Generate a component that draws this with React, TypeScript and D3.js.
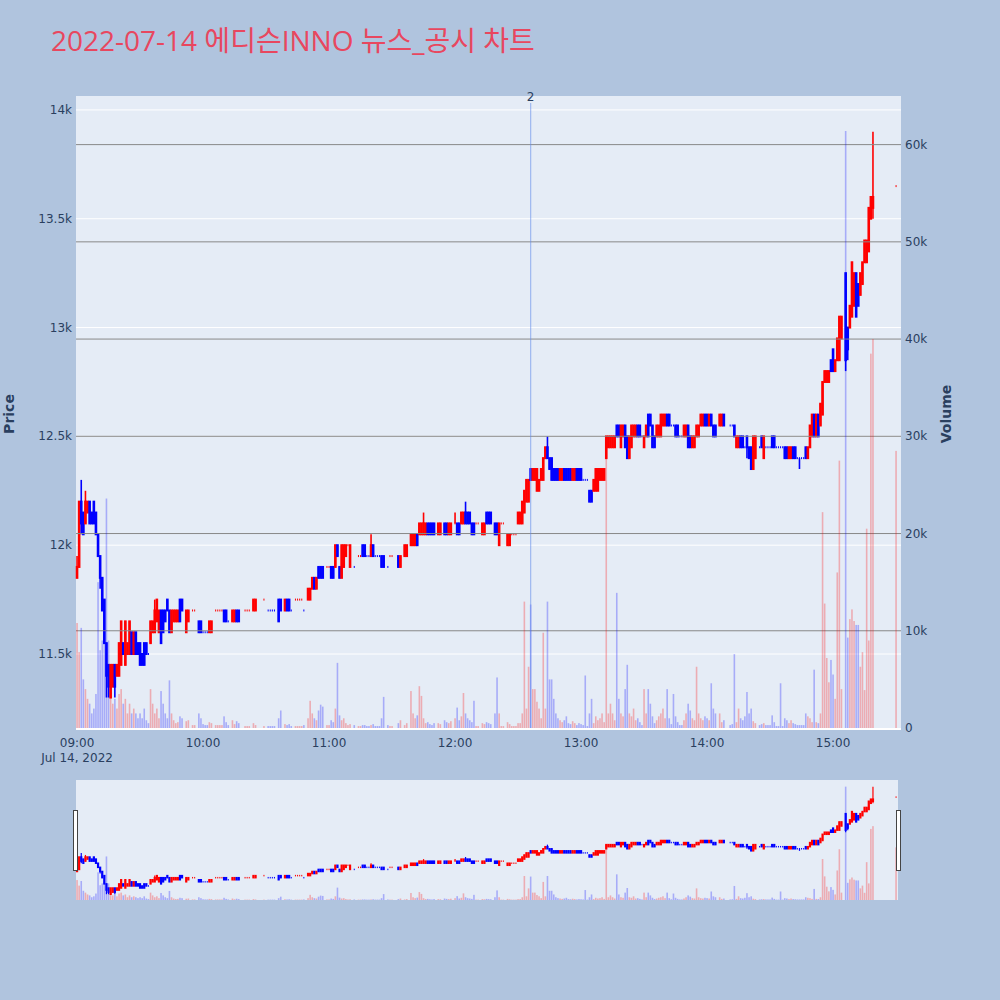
import React from 'react';
import * as d3 from 'd3';

const TITLE = '2022-07-14 에디슨INNO 뉴스_공시 차트';

// [minute after 09:00, open, high, low, close, volume]
const candles: number[][] = [
  [0, 11850, 11950, 11850, 11900, 10800], [1, 11900, 12200, 11900, 12200, 7800], [2, 12200, 12300, 12050, 12100, 10300],
  [3, 12150, 12150, 12050, 12050, 5000], [4, 12100, 12250, 12100, 12200, 4000], [5, 12150, 12200, 12150, 12200, 3000],
  [6, 12200, 12200, 12100, 12100, 2500], [7, 12150, 12150, 12100, 12100, 1500], [8, 12200, 12200, 12100, 12100, 2000],
  [9, 12150, 12150, 12050, 12050, 3500], [10, 12050, 12050, 11950, 11950, 15000], [11, 11950, 11950, 11800, 11850, 8000],
  [12, 11850, 11850, 11700, 11700, 9000], [13, 11750, 11750, 11550, 11550, 10000], [14, 11550, 11550, 11300, 11400, 23600],
  [15, 11450, 11450, 11300, 11350, 9000], [16, 11300, 11450, 11300, 11450, 4000], [17, 11350, 11450, 11350, 11450, 2500],
  [18, 11450, 11450, 11300, 11350, 3000], [19, 11400, 11450, 11400, 11450, 2000], [20, 11400, 11550, 11400, 11550, 3500],
  [21, 11450, 11650, 11450, 11650, 4000], [22, 11550, 11550, 11500, 11500, 2500], [23, 11450, 11650, 11450, 11650, 3000],
  [24, 11500, 11550, 11500, 11550, 1500], [25, 11500, 11650, 11500, 11650, 2500], [26, 11600, 11600, 11500, 11500, 1500],
  [27, 11500, 11600, 11500, 11600, 2000], [28, 11600, 11600, 11500, 11500, 1500], [29, 11550, 11550, 11500, 11500, 1000],
  [30, 11550, 11550, 11450, 11450, 1500], [31, 11500, 11500, 11450, 11450, 1000], [32, 11550, 11550, 11450, 11450, 2000],
  [33, 11550, 11550, 11500, 11500, 800], [34, 11500, 11500, 11500, 11500, 500], [35, 11550, 11650, 11550, 11650, 4000],
  [36, 11600, 11650, 11600, 11650, 2500], [37, 11600, 11750, 11600, 11700, 1500], [38, 11650, 11750, 11650, 11750, 2000],
  [39, 11600, 11700, 11600, 11700, 1000], [40, 11700, 11700, 11550, 11550, 3800], [41, 11700, 11700, 11600, 11600, 2500],
  [42, 11700, 11700, 11650, 11650, 1500], [43, 11750, 11750, 11700, 11700, 1000], [44, 11700, 11700, 11600, 11600, 4900],
  [45, 11600, 11700, 11600, 11700, 1500], [46, 11650, 11700, 11650, 11700, 800], [47, 11650, 11700, 11650, 11700, 500],
  [48, 11650, 11700, 11650, 11700, 600], [49, 11750, 11750, 11650, 11650, 1200], [50, 11750, 11750, 11700, 11700, 1000],
  [52, 11600, 11700, 11600, 11700, 700], [53, 11650, 11700, 11650, 11700, 800], [55, 11700, 11700, 11700, 11700, 300],
  [56, 11700, 11700, 11700, 11700, 300], [58, 11650, 11650, 11600, 11600, 1500], [59, 11650, 11650, 11600, 11600, 1000],
  [60, 11600, 11600, 11600, 11600, 400], [61, 11600, 11600, 11600, 11600, 300], [62, 11600, 11600, 11600, 11600, 300],
  [63, 11600, 11650, 11600, 11650, 600], [64, 11600, 11650, 11600, 11650, 500], [66, 11700, 11700, 11700, 11700, 300],
  [67, 11700, 11700, 11700, 11700, 300], [68, 11700, 11700, 11700, 11700, 300], [69, 11700, 11700, 11700, 11700, 300],
  [70, 11700, 11700, 11650, 11650, 1200], [71, 11700, 11700, 11650, 11650, 600], [72, 11650, 11650, 11650, 11650, 300],
  [74, 11650, 11700, 11650, 11700, 800], [75, 11650, 11700, 11650, 11700, 400], [76, 11700, 11700, 11650, 11650, 700],
  [77, 11700, 11700, 11650, 11650, 500], [80, 11700, 11700, 11700, 11700, 200], [81, 11700, 11700, 11700, 11700, 200],
  [82, 11700, 11700, 11700, 11700, 200], [84, 11700, 11750, 11700, 11750, 500], [85, 11700, 11750, 11700, 11750, 300],
  [89, 11750, 11750, 11750, 11750, 200], [91, 11700, 11700, 11700, 11700, 200], [92, 11700, 11700, 11700, 11700, 200],
  [93, 11700, 11700, 11700, 11700, 200], [94, 11700, 11700, 11700, 11700, 200], [96, 11750, 11750, 11650, 11650, 1000],
  [97, 11750, 11750, 11700, 11700, 1800], [99, 11700, 11750, 11700, 11750, 400], [100, 11750, 11750, 11700, 11700, 300],
  [101, 11750, 11750, 11700, 11700, 400], [102, 11700, 11700, 11700, 11700, 200], [104, 11750, 11750, 11750, 11750, 200],
  [105, 11750, 11750, 11750, 11750, 200], [106, 11750, 11750, 11750, 11750, 200], [107, 11750, 11750, 11750, 11750, 200],
  [108, 11700, 11700, 11700, 11700, 300], [110, 11750, 11800, 11750, 11800, 1000], [111, 11750, 11800, 11750, 11800, 2800],
  [112, 11800, 11850, 11800, 11850, 1500], [113, 11850, 11850, 11800, 11800, 1000], [114, 11800, 11850, 11800, 11850, 800],
  [115, 11900, 11900, 11850, 11850, 1800], [116, 11900, 11900, 11850, 11850, 2400], [117, 11900, 11900, 11850, 11850, 2200],
  [119, 11900, 11900, 11900, 11900, 300], [120, 11900, 11900, 11900, 11900, 300], [121, 11900, 11900, 11850, 11850, 800],
  [122, 11900, 11900, 11850, 11850, 600], [123, 11900, 12000, 11900, 12000, 2000], [124, 12000, 12000, 11950, 11950, 6700],
  [125, 11900, 11900, 11850, 11850, 1300], [126, 11850, 12000, 11850, 12000, 800], [127, 11900, 12000, 11900, 12000, 1000],
  [128, 11950, 12000, 11950, 12000, 500], [129, 12000, 12000, 12000, 12000, 300], [130, 11900, 12000, 11900, 12000, 400],
  [132, 11900, 11900, 11900, 11900, 300], [134, 11950, 11950, 11950, 11950, 200], [135, 11950, 11950, 11950, 11950, 200],
  [136, 12000, 12000, 11950, 11950, 300], [137, 12000, 12000, 11950, 11950, 300], [138, 11950, 11950, 11950, 11950, 200],
  [139, 11950, 11950, 11950, 11950, 200], [140, 11950, 12050, 11950, 12000, 300], [141, 12000, 12000, 11950, 11950, 400],
  [142, 11950, 11950, 11950, 11950, 200], [143, 11950, 11950, 11950, 11950, 200], [144, 11950, 11950, 11950, 11950, 200],
  [145, 11950, 11950, 11900, 11900, 1000], [146, 11950, 11950, 11900, 11900, 3200], [148, 11900, 11900, 11900, 11900, 300],
  [149, 11950, 11950, 11950, 11950, 200], [150, 11950, 11950, 11950, 11950, 200], [153, 11950, 11950, 11900, 11900, 500],
  [154, 11900, 11950, 11900, 11950, 800], [156, 11950, 12000, 11950, 12000, 300], [157, 11950, 12000, 11950, 12000, 500],
  [159, 12000, 12050, 12000, 12050, 3800], [160, 12000, 12050, 12000, 12050, 1500], [161, 12000, 12050, 12000, 12050, 1000],
  [162, 12050, 12050, 12000, 12000, 1300], [163, 12050, 12100, 12050, 12100, 4300], [164, 12050, 12100, 12050, 12100, 3300],
  [165, 12050, 12150, 12050, 12100, 1000], [166, 12050, 12100, 12050, 12100, 500], [167, 12100, 12100, 12050, 12050, 600],
  [168, 12100, 12100, 12050, 12050, 400], [169, 12100, 12100, 12050, 12050, 300], [170, 12100, 12100, 12050, 12050, 500],
  [172, 12050, 12100, 12050, 12100, 500], [173, 12050, 12100, 12050, 12100, 400], [175, 12100, 12100, 12050, 12050, 800],
  [176, 12100, 12100, 12050, 12050, 600], [177, 12050, 12100, 12050, 12100, 500], [178, 12050, 12100, 12050, 12100, 700],
  [180, 12100, 12150, 12100, 12100, 1000], [181, 12100, 12100, 12050, 12050, 2100], [182, 12100, 12100, 12050, 12050, 800],
  [183, 12100, 12150, 12100, 12150, 1200], [184, 12100, 12150, 12100, 12150, 3600], [185, 12150, 12200, 12100, 12100, 1500],
  [186, 12150, 12150, 12100, 12100, 1000], [187, 12150, 12150, 12100, 12100, 800], [188, 12100, 12100, 12050, 12050, 600],
  [189, 12100, 12100, 12050, 12050, 2800], [190, 12100, 12100, 12100, 12100, 200], [191, 12100, 12100, 12100, 12100, 200],
  [193, 12050, 12100, 12050, 12100, 500], [194, 12050, 12100, 12050, 12100, 400], [195, 12150, 12150, 12100, 12100, 600],
  [196, 12150, 12150, 12100, 12100, 500], [197, 12150, 12150, 12100, 12100, 400], [199, 12100, 12100, 12050, 12050, 1500],
  [200, 12100, 12100, 12050, 12050, 5200], [201, 12000, 12100, 12000, 12100, 1500], [202, 12100, 12100, 12100, 12100, 200],
  [203, 12100, 12100, 12100, 12100, 200], [205, 12000, 12050, 12000, 12050, 600], [206, 12000, 12050, 12000, 12050, 400],
  [207, 12050, 12050, 12050, 12050, 200], [208, 12050, 12050, 12050, 12050, 200], [209, 12050, 12050, 12050, 12050, 200],
  [210, 12100, 12150, 12100, 12150, 500], [211, 12100, 12150, 12100, 12150, 500], [212, 12100, 12200, 12100, 12200, 1500],
  [213, 12150, 12250, 12150, 12250, 13000], [214, 12200, 12300, 12200, 12300, 2000], [215, 12200, 12300, 12200, 12300, 6300],
  [216, 12350, 12350, 12300, 12300, 12700], [217, 12300, 12350, 12300, 12350, 4000], [218, 12300, 12350, 12300, 12350, 4000],
  [219, 12250, 12350, 12250, 12350, 2700], [220, 12250, 12300, 12250, 12300, 2000], [221, 12300, 12350, 12300, 12350, 1000],
  [222, 12300, 12400, 12300, 12400, 9800], [223, 12400, 12450, 12400, 12450, 2000], [224, 12450, 12500, 12400, 12400, 13000],
  [225, 12400, 12400, 12350, 12350, 5000], [226, 12400, 12400, 12300, 12300, 5000], [227, 12350, 12350, 12300, 12300, 3000],
  [228, 12350, 12350, 12300, 12300, 1500], [229, 12350, 12350, 12300, 12300, 1000], [230, 12300, 12350, 12300, 12350, 800],
  [231, 12300, 12350, 12300, 12350, 600], [232, 12350, 12350, 12300, 12300, 800], [233, 12350, 12350, 12300, 12300, 1200],
  [234, 12350, 12350, 12300, 12300, 500], [235, 12350, 12350, 12300, 12300, 400], [236, 12300, 12350, 12300, 12350, 700],
  [237, 12300, 12350, 12300, 12350, 500], [238, 12350, 12350, 12300, 12300, 300], [239, 12350, 12350, 12300, 12300, 500],
  [240, 12350, 12350, 12300, 12300, 400], [241, 12300, 12300, 12300, 12300, 300], [242, 12300, 12300, 12300, 12300, 5400],
  [243, 12300, 12300, 12300, 12300, 200], [244, 12250, 12250, 12200, 12200, 1500], [245, 12250, 12250, 12200, 12200, 3000],
  [246, 12250, 12300, 12250, 12300, 500], [247, 12250, 12350, 12250, 12350, 1200], [248, 12250, 12350, 12250, 12350, 800],
  [249, 12300, 12350, 12300, 12350, 1000], [250, 12300, 12350, 12300, 12350, 1500], [251, 12300, 12350, 12300, 12350, 600],
  [252, 12400, 12500, 12400, 12500, 30000], [253, 12450, 12500, 12450, 12500, 1500], [254, 12450, 12500, 12450, 12500, 2500],
  [255, 12450, 12500, 12450, 12500, 1500], [256, 12450, 12500, 12450, 12500, 800], [257, 12550, 12550, 12500, 12500, 13900],
  [258, 12550, 12550, 12500, 12500, 3000], [259, 12450, 12550, 12450, 12550, 1500], [260, 12500, 12550, 12500, 12550, 1200],
  [261, 12550, 12550, 12450, 12450, 4000], [262, 12500, 12500, 12400, 12400, 6500], [263, 12400, 12500, 12400, 12500, 1500],
  [264, 12450, 12550, 12450, 12550, 1200], [265, 12500, 12550, 12500, 12550, 2000], [266, 12500, 12550, 12500, 12550, 800],
  [267, 12550, 12550, 12500, 12500, 1000], [268, 12550, 12550, 12500, 12500, 600], [269, 12500, 12500, 12500, 12500, 300],
  [270, 12450, 12500, 12450, 12500, 4000], [271, 12500, 12550, 12500, 12550, 1500], [272, 12600, 12600, 12500, 12500, 4000],
  [273, 12600, 12600, 12550, 12550, 2500], [274, 12550, 12550, 12450, 12450, 1200], [275, 12500, 12500, 12450, 12450, 500],
  [276, 12500, 12550, 12500, 12550, 800], [277, 12500, 12550, 12500, 12550, 1200], [278, 12500, 12600, 12500, 12600, 1500],
  [279, 12550, 12600, 12550, 12600, 2000], [280, 12550, 12600, 12550, 12600, 1000], [281, 12600, 12600, 12550, 12550, 4000],
  [282, 12600, 12600, 12550, 12550, 1000], [283, 12550, 12550, 12550, 12550, 400], [284, 12550, 12550, 12550, 12550, 3500],
  [285, 12550, 12550, 12500, 12500, 1200], [286, 12550, 12550, 12500, 12500, 600], [287, 12500, 12500, 12500, 12500, 300],
  [288, 12500, 12500, 12500, 12500, 300], [289, 12500, 12550, 12500, 12550, 800], [290, 12500, 12550, 12500, 12550, 1500],
  [291, 12550, 12550, 12450, 12450, 2500], [292, 12500, 12500, 12450, 12450, 1800], [293, 12450, 12500, 12450, 12500, 1000],
  [294, 12450, 12500, 12450, 12500, 800], [295, 12500, 12550, 12500, 12550, 6300], [296, 12500, 12550, 12500, 12550, 1500],
  [297, 12550, 12600, 12550, 12600, 1000], [298, 12550, 12600, 12550, 12600, 800], [299, 12600, 12600, 12550, 12550, 1200],
  [300, 12600, 12600, 12550, 12550, 1000], [301, 12550, 12600, 12550, 12600, 800], [302, 12600, 12600, 12550, 12550, 4600],
  [303, 12550, 12550, 12500, 12500, 2000], [304, 12550, 12550, 12500, 12500, 1500], [306, 12550, 12600, 12550, 12600, 1500],
  [307, 12550, 12600, 12550, 12600, 600], [308, 12600, 12600, 12550, 12550, 800], [311, 12550, 12550, 12550, 12550, 300],
  [312, 12550, 12550, 12550, 12550, 400], [313, 12550, 12550, 12500, 12500, 7600], [314, 12450, 12500, 12450, 12500, 600],
  [315, 12450, 12500, 12450, 12500, 2000], [316, 12500, 12500, 12450, 12450, 1000], [317, 12500, 12500, 12450, 12450, 800],
  [318, 12450, 12450, 12450, 12450, 1200], [319, 12500, 12500, 12400, 12450, 3700], [320, 12450, 12450, 12400, 12400, 1500],
  [321, 12450, 12450, 12350, 12350, 2000], [322, 12350, 12500, 12350, 12500, 700], [323, 12400, 12500, 12400, 12500, 500],
  [325, 12450, 12450, 12450, 12450, 300], [326, 12500, 12500, 12450, 12450, 400], [327, 12400, 12500, 12400, 12500, 500],
  [328, 12450, 12450, 12450, 12450, 300], [329, 12450, 12450, 12450, 12450, 300], [330, 12450, 12450, 12450, 12450, 300],
  [331, 12500, 12500, 12450, 12450, 1300], [332, 12500, 12500, 12450, 12450, 600], [333, 12450, 12450, 12450, 12450, 200],
  [334, 12450, 12450, 12450, 12450, 200], [335, 12450, 12450, 12450, 12450, 4600], [336, 12450, 12450, 12450, 12450, 200],
  [337, 12450, 12450, 12400, 12400, 1000], [338, 12450, 12450, 12400, 12400, 800], [339, 12400, 12450, 12400, 12450, 500],
  [340, 12400, 12450, 12400, 12450, 800], [341, 12450, 12450, 12400, 12400, 500], [342, 12450, 12450, 12400, 12400, 400],
  [343, 12400, 12400, 12400, 12400, 300], [344, 12400, 12400, 12350, 12400, 300], [345, 12400, 12400, 12400, 12400, 300],
  [346, 12400, 12400, 12400, 12400, 300], [347, 12450, 12450, 12400, 12400, 1500], [348, 12400, 12450, 12400, 12450, 1200],
  [349, 12450, 12550, 12450, 12550, 1000], [350, 12500, 12600, 12500, 12600, 600], [351, 12600, 12600, 12500, 12500, 6000],
  [352, 12500, 12600, 12500, 12600, 600], [353, 12600, 12600, 12500, 12500, 500], [354, 12550, 12650, 12550, 12650, 1500],
  [355, 12600, 12750, 12600, 12750, 22200], [356, 12750, 12800, 12750, 12800, 12800], [357, 12750, 12800, 12750, 12800, 7200],
  [358, 12750, 12800, 12750, 12800, 4700], [359, 12850, 12850, 12800, 12800, 7000], [360, 12900, 12900, 12800, 12800, 5500],
  [361, 12800, 12850, 12800, 12850, 3000], [362, 12850, 12950, 12850, 12950, 16000], [363, 12850, 13050, 12850, 13050, 27500],
  [364, 12950, 13050, 12950, 13050, 4000], [366, 13250, 13250, 12800, 12850, 61400], [367, 13000, 13000, 12850, 12900, 9300],
  [368, 13000, 13100, 13000, 13100, 11200], [369, 13050, 13300, 13050, 13300, 12200], [370, 13100, 13250, 13100, 13250, 11000],
  [371, 13250, 13250, 13050, 13050, 10600], [372, 13200, 13200, 13100, 13100, 10600], [373, 13150, 13250, 13150, 13250, 6300],
  [374, 13200, 13300, 13200, 13300, 7800], [375, 13300, 13400, 13300, 13400, 3900], [376, 13300, 13400, 13300, 13400, 20500],
  [377, 13350, 13550, 13350, 13550, 9000], [378, 13500, 13600, 13500, 13600, 38500], [379, 13550, 13900, 13500, 13600, 40000],
  [390, 13650, 13650, 13650, 13650, 28500],
];

const priceTicks = [11500, 12000, 12500, 13000, 13500, 14000];
const priceTickLabels = ['11.5k', '12k', '12.5k', '13k', '13.5k', '14k'];
const volumeTicks = [0, 10000, 20000, 30000, 40000, 50000, 60000];
const volumeTickLabels = ['0', '10k', '20k', '30k', '40k', '50k', '60k'];
const timeTickHours = [9, 10, 11, 12, 13, 14, 15];
const newsMarkers = [{ minute: 216, label: '2' }];

const UP = '#ff0000';
const DOWN = '#0000ff';
const UP_VOL = 'rgba(255,0,0,0.27)';
const DOWN_VOL = 'rgba(0,0,255,0.27)';
const TITLE_FONT = "'Open Sans', 'Noto Sans CJK KR', verdana, arial, sans-serif";
const AXIS_FONT = "'DejaVu Sans', verdana, arial, sans-serif";
const TXT = '#2a3f5f';

const toDate = (m: number) => new Date(2022, 6, 14, 9, m);

export default function App() {
  const plot = { l: 76, r: 901, t: 96, b: 728 };
  const sl = { l: 76, r: 898, t: 780, b: 900 };

  const x = d3.scaleTime()
    .domain([new Date(2022, 6, 14, 8, 59, 30), new Date(2022, 6, 14, 15, 32, 21)])
    .range([plot.l, plot.r]);
  const yP = d3.scaleLinear().domain([11160, 14064]).range([plot.b, plot.t]);
  const yV = d3.scaleLinear().domain([0, 65000]).range([plot.b, plot.t]);
  const yPs = yP.copy().range([sl.b, sl.t]);
  const yVs = yV.copy().range([sl.b, sl.t]);

  // direction like plotly: equal open/close compares with previous close
  let prevC = candles[0][1];
  let prevUp = true;
  const rows = candles.map(([m, o, h, l, c, v]) => {
    let up: boolean;
    if (c > o) up = true;
    else if (c < o) up = false;
    else if (c > prevC) up = true;
    else if (c < prevC) up = false;
    else up = prevUp;
    prevC = c; prevUp = up;
    return { t: toDate(m), o, h, l, c, v, up };
  });

  const drawCandles = (yS: d3.ScaleLinear<number, number>, key: string, bw: number, ww: number, minH: number) =>
    rows.map((d, i) => {
      const cx = x(d.t);
      const top = yS(Math.max(d.o, d.c));
      const bot = yS(Math.min(d.o, d.c));
      const col = d.up ? UP : DOWN;
      const doji = d.o === d.c;
      const w = doji ? 1 : bw;
      return (
        <g key={key + i}>
          {d.h !== d.l && (
            <line x1={cx} x2={cx} y1={yS(d.h)} y2={yS(d.l)} stroke={col} strokeWidth={ww} />
          )}
          <rect x={cx - w / 2} y={top - minH / 2} width={w} height={bot - top + minH} fill={col} />
        </g>
      );
    });

  const drawVolumes = (yS: d3.ScaleLinear<number, number>, key: string, base: number) =>
    rows.map((d, i) => (
      <rect key={key + i} x={x(d.t) - 0.8} y={yS(d.v)} width={1.6} height={base - yS(d.v)}
        fill={d.up ? UP_VOL : DOWN_VOL} />
    ));

  return (
    <div style={{ position: 'fixed', left: 0, top: 0, width: 1000, height: 1000 }}>
      <svg width={1000} height={1000} style={{ display: 'block', fontFamily: AXIS_FONT }}>
        <rect x={0} y={0} width={1000} height={1000} fill="#b0c4de" />
        <text x={51} y={51} fontSize={28} fill="#e8475f" style={{ fontFamily: TITLE_FONT }}>{TITLE}</text>

        {/* main plot */}
        <rect x={plot.l} y={plot.t} width={plot.r - plot.l} height={plot.b - plot.t} fill="#e5ecf6" />
        {priceTicks.map((p, i) => (
          <line key={'pg' + i} x1={plot.l} x2={plot.r} y1={yP(p)} y2={yP(p)} stroke="#fff" strokeWidth={1} />
        ))}
        <g>{drawCandles(yP, 'c', 2.6, 1.6, 2)}</g>
        {volumeTicks.slice(1).map((v, i) => (
          <line key={'vg' + i} x1={plot.l} x2={plot.r} y1={yV(v)} y2={yV(v)} stroke="#888" strokeWidth={1} />
        ))}
        <g>{drawVolumes(yV, 'v', plot.b)}</g>
        <line x1={plot.l} x2={plot.r} y1={plot.b + 1} y2={plot.b + 1} stroke="#fff" strokeWidth={2} />

        {newsMarkers.map((n, i) => {
          const nx = x(toDate(n.minute));
          return (
            <g key={'n' + i}>
              <line x1={nx} x2={nx} y1={plot.t + 7} y2={plot.b} stroke="rgba(100,140,235,0.55)" strokeWidth={1.2} />
              <text x={nx} y={101} fontSize={12} fill={TXT} textAnchor="middle">{n.label}</text>
            </g>
          );
        })}

        {/* axes labels */}
        {priceTicks.map((p, i) => (
          <text key={'pl' + i} x={72} y={yP(p) + 4} fontSize={12} fill={TXT} textAnchor="end">{priceTickLabels[i]}</text>
        ))}
        {volumeTicks.map((v, i) => (
          <text key={'vl' + i} x={905} y={yV(v) + 4} fontSize={12} fill={TXT} textAnchor="start">{volumeTickLabels[i]}</text>
        ))}
        {timeTickHours.map((h, i) => {
          const tx = x(new Date(2022, 6, 14, h, 0));
          return (
            <g key={'tl' + i}>
              <text x={tx} y={747} fontSize={12} fill={TXT} textAnchor="middle">{d3.timeFormat('%H:%M')(new Date(2022, 6, 14, h, 0))}</text>
              {i === 0 && <text x={tx} y={762} fontSize={12} fill={TXT} textAnchor="middle">{d3.timeFormat('%b %-d, %Y')(new Date(2022, 6, 14))}</text>}
            </g>
          );
        })}
        <text transform={`translate(14,414) rotate(-90)`} fontSize={14} fontWeight="bold" fill={TXT} textAnchor="middle">Price</text>
        <text transform={`translate(951,414) rotate(-90)`} fontSize={14} fontWeight="bold" fill={TXT} textAnchor="middle">Volume</text>

        {/* range slider */}
        <rect x={sl.l} y={sl.t} width={sl.r - sl.l} height={sl.b - sl.t} fill="#e5ecf6" />
        <g>{drawCandles(yPs, 'sc', 2.2, 1.2, 1.5)}</g>
        <g>{drawVolumes(yVs, 'sv', sl.b)}</g>
        <rect x={sl.l - 2.5} y={810.5} width={4} height={60} fill="#fff" stroke="#444" strokeWidth={1} />
        <rect x={sl.r - 1.5} y={810.5} width={4} height={60} fill="#fff" stroke="#444" strokeWidth={1} />
      </svg>
    </div>
  );
}
